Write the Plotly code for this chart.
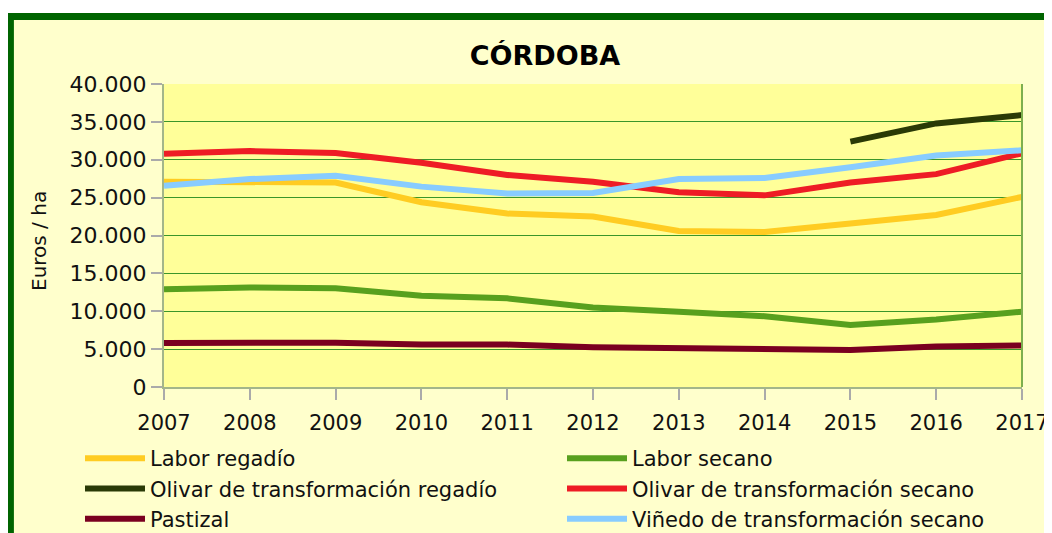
import plotly.graph_objects as go

years = [2007, 2008, 2009, 2010, 2011, 2012, 2013, 2014, 2015, 2016, 2017]
year_labels = [str(y) for y in years]

labor_regadio = [27100, 27100, 27000, 24400, 22900, 22500, 20600, 20450, 21600, 22700, 25100]
labor_secano = [12900, 13150, 13050, 12050, 11700, 10500, 9950, 9350, 8200, 8900, 9950]
olivar_regadio = [None, None, None, None, None, None, None, None, 32400, 34800, 35900]
olivar_secano = [30800, 31150, 30900, 29600, 28000, 27100, 25700, 25300, 27000, 28100, 30850]
pastizal = [5800, 5900, 5850, 5600, 5600, 5250, 5150, 5000, 4900, 5350, 5480]
vinedo = [26550, 27450, 27900, 26450, 25550, 25600, 27450, 27600, 29000, 30550, 31250]

series_names = [
    "Labor regadío", "Labor secano",
    "Olivar de transformación regadío", "Olivar de transformación secano",
    "Pastizal", "Viñedo de transformación secano",
]
series_values = [labor_regadio, labor_secano, olivar_regadio, olivar_secano, pastizal, vinedo]
series_colors = ["#FFCC22", "#58A01E", "#2A3A06", "#EE1C25", "#7A0020", "#88CCFF"]
series_legend = ["legend", "legend2", "legend", "legend2", "legend", "legend2"]

FONT = "DejaVu Sans, Verdana, sans-serif"

# the page shows the figure 8px in from the top-left corner
W, H = 1044, 525
L, R, T, B = 156, 30, 76, 146
PW, PH = W - L - R, H - T - B


def px_x(x):
    return (x - L) / PW


def px_y(y):
    return (H - B - y) / PH


fig = go.Figure()
for name, vals, col, lg in zip(series_names, series_values, series_colors, series_legend):
    fig.add_trace(go.Scatter(
        x=years, y=vals, name=name, mode="lines",
        line=dict(color=col, width=6), legend=lg, connectgaps=False,
    ))

shapes = [
    # white strip above the frame
    dict(type="rect", xref="paper", yref="paper", x0=px_x(-5), x1=px_x(1070), y0=px_y(5), y1=px_y(-5),
         fillcolor="white", line=dict(width=0), layer="above"),
    # green frame
    dict(type="rect", xref="paper", yref="paper", x0=px_x(2.4), x1=px_x(1070), y0=px_y(560), y1=px_y(8.4),
         fillcolor="rgba(0,0,0,0)", line=dict(color="#006400", width=7), layer="above"),
    # right edge of plot area
    dict(type="line", xref="paper", yref="paper", x0=1, x1=1, y0=0, y1=1,
         line=dict(color="#7DAF4F", width=2), layer="above"),
]

IW = 60
fig.update_layout(
    width=W, height=H,
    margin=dict(l=L, r=R, t=T, b=B, autoexpand=False),
    paper_bgcolor="#FFFFCC",
    plot_bgcolor="#FFFF99",
    separators=",.",
    font=dict(family=FONT, color="#111111", size=21),
    title=dict(text="<b>CÓRDOBA</b>", font=dict(family=FONT, size=27, color="#000000"),
               xref="paper", x=px_x(537), xanchor="center",
               yref="container", y=1 - 48 / H, yanchor="middle"),
    xaxis=dict(
        range=[2007, 2017], tickvals=years, ticktext=year_labels,
        showgrid=False, zeroline=False,
        showline=True, linecolor="#A3B68A", linewidth=2,
        ticks="outside", ticklen=11, tickwidth=2, tickcolor="#AAAAAA",
        tickfont=dict(family=FONT, size=21, color="#111111"),
        ticklabelstandoff=5,
    ),
    yaxis=dict(
        range=[0, 40000], dtick=5000, tickformat=",.0f",
        showgrid=True, gridcolor="#3A962A", gridwidth=1,
        zeroline=False,
        showline=True, linecolor="#A3B68A", linewidth=2,
        ticks="outside", ticklen=11, tickwidth=2, tickcolor="#AAAAAA",
        tickfont=dict(family=FONT, size=22, color="#111111"),
    ),
    legend=dict(
        orientation="v", xref="container", yref="container",
        x=(142 - IW - 10) / W, xanchor="left", y=1 - 430 / H, yanchor="top",
        bgcolor="rgba(0,0,0,0)", font=dict(family=FONT, size=21, color="#111111"),
        itemwidth=IW, tracegroupgap=0,
    ),
    legend2=dict(
        orientation="v", xref="container", yref="container",
        x=(624 - IW - 10) / W, xanchor="left", y=1 - 430 / H, yanchor="top",
        bgcolor="rgba(0,0,0,0)", font=dict(family=FONT, size=21, color="#111111"),
        itemwidth=IW, tracegroupgap=0,
    ),
    annotations=[dict(
        text="Euros / ha", xref="paper", yref="paper",
        x=px_x(31), y=px_y(233), xanchor="center", yanchor="middle",
        textangle=-90, showarrow=False,
        font=dict(family=FONT, size=20, color="#111111"),
    )],
    shapes=shapes,
)

fig.write_html("out.html")
